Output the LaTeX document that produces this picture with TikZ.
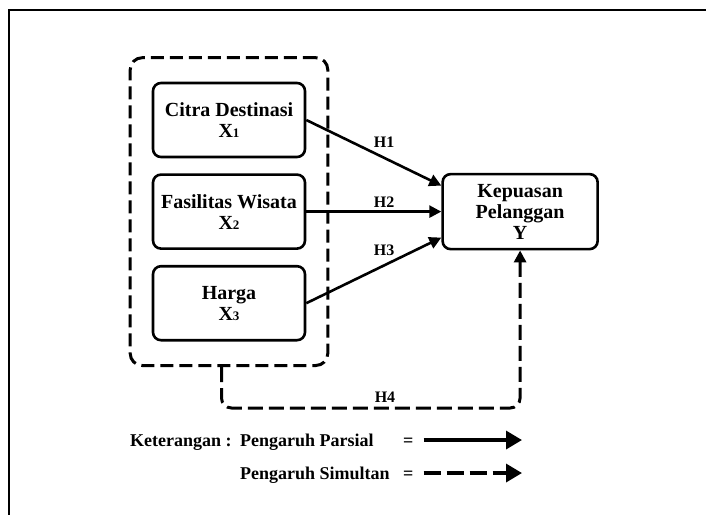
\documentclass[tikz,border=0pt]{standalone}
\usepackage{fontspec}
\setmainfont{Liberation Serif}
\usepackage{tikz}
\usetikzlibrary{arrows.meta, positioning, fit, calc}

\newcommand{\vbfont}{\fontsize{20}{21}\selectfont\bfseries}
\newcommand{\hfont}{\fontsize{16}{17}\selectfont\bfseries}
\newcommand{\legfont}{\fontsize{18}{19}\selectfont\bfseries}
\newcommand{\xsub}[1]{{\fontsize{13}{13}\selectfont #1}}

\begin{document}
\begin{tikzpicture}[
    x=1pt, y=-1pt,
    node distance=15pt and 135pt,
    varbox/.style={rectangle, rounded corners=8pt, draw, line width=2.6pt,
                   minimum width=152pt, minimum height=74pt, align=center, font=\vbfont},
    grpbox/.style={draw, line width=3pt, dash pattern=on 13pt off 6pt, rounded corners=12pt},
    partarrow/.style={-{Triangle[length=12pt, width=12pt]}, line width=2.6pt},
    simarrow/.style={-{Triangle[length=12pt, width=12pt]}, line width=3pt, dash pattern=on 15pt off 6pt},
    legpart/.style={-{Triangle[length=16pt, width=18pt]}, line width=3.4pt},
    legsim/.style={-{Triangle[length=16pt, width=18pt]}, line width=3.4pt, dash pattern=on 17pt off 6pt},
    hlabel/.style={font=\hfont, inner sep=0pt},
    legtext/.style={font=\legfont, inner sep=0pt, anchor=base west},
]
\useasboundingbox (0,0) rectangle (706,515);

% page frame
\draw[line width=1.2pt] (706,10) -- (9,10) -- (9,515);

% independent variables
\node[varbox] (x1) at (229,120) {Citra Destinasi\\X\xsub{1}};
\node[varbox, below=of x1] (x2) {Fasilitas Wisata\\X\xsub{2}};
\node[varbox, below=of x2] (x3) {Harga\\X\xsub{3}};

% dependent variable
\node[varbox, right=of x2, minimum width=155pt, minimum height=75pt] (yv) {Kepuasan\\Pelanggan\\Y};

% group box
\node[grpbox, fit=(x1)(x3), inner xsep=21.5pt, inner ysep=24pt] (grp) {};

% partial effects
\draw[partarrow] (x1.east) -- ($(yv.west)+(0,-26)$)
    node[hlabel, pos=0.577, above=9pt] {H1};
\draw[partarrow] (x2.east) -- (yv.west)
    node[hlabel, pos=0.577, above=3pt] {H2};
\draw[partarrow] (x3.east) -- ($(yv.west)+(0,26)$)
    node[hlabel, pos=0.577, above=8pt] {H3};

% simultaneous effect
\draw[simarrow, rounded corners=10pt] ([xshift=-7.5pt]grp.south) -- ++(0,41) coordinate (h4c) -| (yv.south);
\node[hlabel, above=5pt] (h4) at (h4c -| 385,0) {H4};

% legend
\node[legtext] (ket) at (130,446) {Keterangan :};
\node[legtext] (parsial) at (240,446) {Pengaruh Parsial};
\node[legtext] (eq1) at (403,446) {=};
\node[legtext] (simultan) at (240,479) {Pengaruh Simultan};
\node[legtext] (eq2) at (403,479) {=};
\coordinate (pend) at (522,440);
\coordinate (send) at (522,473);
\draw[legpart] (eq1.east |- pend) ++(10,0) -- (pend);
\draw[legsim] (eq2.east |- send) ++(10,0) -- (send);

\end{tikzpicture}
\end{document}
